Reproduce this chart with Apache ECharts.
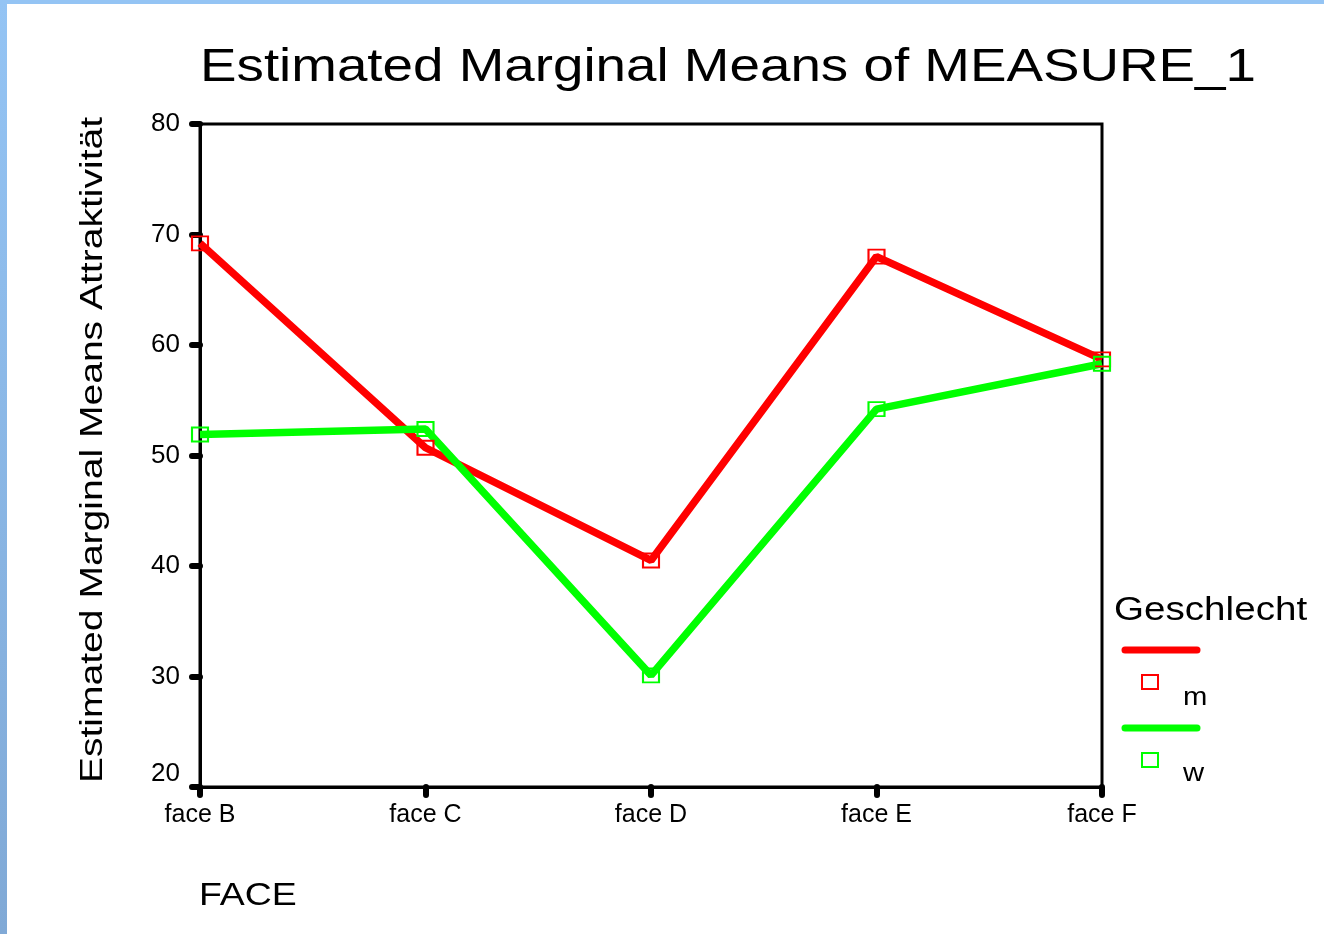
<!DOCTYPE html>
<html>
<head>
<meta charset="utf-8">
<script src="https://cdn.jsdelivr.net/npm/echarts@6/dist/echarts.min.js"></script>
<style>
  html, body { margin: 0; padding: 0; background: #fff; }
  #main { width: 1324px; height: 934px; }
</style>
</head>
<body>
<div id="main"></div>
<script>
var faces = ['face B', 'face C', 'face D', 'face E', 'face F'];
var maleMeans = [69.2, 50.7, 40.5, 68.0, 58.7];
var femaleMeans = [51.9, 52.4, 30.1, 54.2, 58.3];
var yTicks = { min: 20, max: 80, step: 10 };

var font = '"Liberation Sans", Arial, sans-serif';
// SPSS output is a bit stretched sideways, so wide texts get a scaleX
var stretch = 1.17;

function lineSeries(name, data, color) {
    return {
        name: name,
        type: 'line',
        data: data,
        symbol: 'rect',
        symbolSize: [16, 14],
        showSymbol: true,
        lineStyle: { color: color, width: 7.5 },
        itemStyle: { color: 'transparent', borderColor: color, borderWidth: 2 },
        emphasis: { disabled: true },
        z: 3
    };
}

function label(text, x, y, size, extra) {
    var el = {
        type: 'text', x: x, y: y, z: 20,
        scaleX: stretch,
        style: { text: text, font: size + 'px ' + font, fill: '#000', textVerticalAlign: 'top' }
    };
    for (var k in extra) el[k] = extra[k];
    return el;
}

var option = {
    backgroundColor: '#fff',
    animation: false,
    grid: {
        left: 200, right: 222, top: 124, bottom: 147,
        show: true, borderColor: '#000', borderWidth: 3, backgroundColor: 'transparent'
    },
    xAxis: {
        type: 'category',
        data: faces,
        boundaryGap: false,
        axisLine: { lineStyle: { color: '#000', width: 3 } },
        axisTick: { alignWithLabel: true, length: 8, lineStyle: { color: '#000', width: 6, cap: 'round' } },
        axisLabel: { color: '#000', fontFamily: font, fontSize: 25, margin: 16 },
        splitLine: { show: false }
    },
    yAxis: {
        type: 'value',
        min: yTicks.min,
        max: yTicks.max,
        interval: yTicks.step,
        axisLine: { show: true, lineStyle: { color: '#000', width: 3 } },
        axisTick: { show: true, length: 8, lineStyle: { color: '#000', width: 6, cap: 'round' } },
        axisLabel: {
            color: '#000', fontFamily: font, fontSize: 26, margin: 20,
            formatter: function (v) { return v === yTicks.min ? '{low|' + v + '}' : String(v); },
            rich: { low: { fontFamily: font, fontSize: 26, color: '#000', padding: [0, 0, 26, 0] } }
        },
        splitLine: { show: false }
    },
    series: [
        lineSeries('m', maleMeans, '#ff0000'),
        lineSeries('w', femaleMeans, '#00ff00')
    ],
    graphic: [
        {
            type: 'rect', left: 0, top: 0, z: 100,
            shape: { width: 7, height: 934 },
            style: { fill: new echarts.graphic.LinearGradient(0, 0, 0, 1, [
                { offset: 0, color: '#94c4f4' }, { offset: 1, color: '#80a9d6' }
            ]) }
        },
        {
            type: 'rect', left: 0, top: 0, z: 100,
            shape: { width: 1324, height: 4 },
            style: { fill: '#94c4f4' }
        },
        {
            type: 'text', x: 728, y: 45, z: 20, scaleX: 1.165,
            style: {
                text: 'Estimated Marginal Means of MEASURE_1', font: '47px ' + font,
                fill: '#000', textAlign: 'center', textVerticalAlign: 'top'
            }
        },
        {
            type: 'text', x: 93, y: 450, z: 20, scaleX: 1.22, rotation: Math.PI / 2,
            style: {
                text: 'Estimated Marginal Means Attraktivität', font: '32px ' + font,
                fill: '#000', textAlign: 'center', textVerticalAlign: 'middle'
            }
        },
        label('FACE', 199, 880, 32),
        label('Geschlecht', 1114, 594, 33),
        {
            type: 'line', z: 10,
            shape: { x1: 1125, y1: 650, x2: 1197, y2: 650 },
            style: { stroke: '#ff0000', lineWidth: 7, lineCap: 'round' }
        },
        {
            type: 'rect', z: 10,
            shape: { x: 1142, y: 675, width: 16, height: 14 },
            style: { fill: 'transparent', stroke: '#ff0000', lineWidth: 2 }
        },
        label('m', 1183, 686, 25),
        {
            type: 'line', z: 10,
            shape: { x1: 1125, y1: 728, x2: 1197, y2: 728 },
            style: { stroke: '#00ff00', lineWidth: 7, lineCap: 'round' }
        },
        {
            type: 'rect', z: 10,
            shape: { x: 1142, y: 753, width: 16, height: 14 },
            style: { fill: 'transparent', stroke: '#00ff00', lineWidth: 2 }
        },
        label('w', 1183, 762, 25)
    ]
};

var chart = echarts.init(document.getElementById('main'));
chart.setOption(option);
</script>
</body>
</html>
